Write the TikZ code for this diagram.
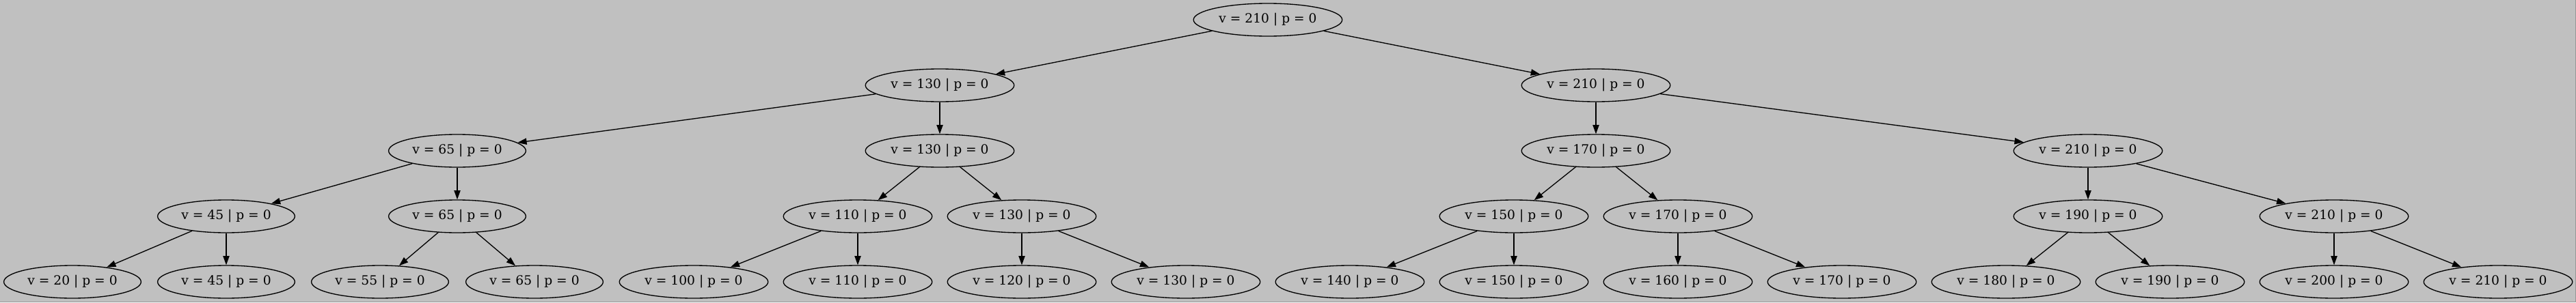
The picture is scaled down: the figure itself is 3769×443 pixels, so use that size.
\documentclass[tikz,border=0pt]{standalone}
\usepackage{fontspec}
\setmainfont{DejaVu Serif}
\usetikzlibrary{shapes.geometric,arrows.meta}

\definecolor{fondo}{RGB}{192,192,192}
\definecolor{borde}{RGB}{150,150,150}

\begin{document}
\begin{tikzpicture}[x=0.75pt,y=-0.75pt,
    nodo/.style={ellipse, draw=black, line width=1pt, inner xsep=4pt, inner ysep=0pt,
                 minimum height=36pt, font=\fontsize{14}{16}\selectfont},
    arista/.style={-{Triangle[length=10pt,width=7pt]}, line width=1pt, black}]

      % Fondo
      \useasboundingbox (0,0) rectangle (3769,443);
      \fill[fondo] (0,0) rectangle (3769,443);
      \draw[borde, line width=0.75pt] (0,442.5) -- (3768.5,442.5) -- (3768.5,0);

      % Nivel 0
      \node[nodo] (r) at (1855,29) {v = 210 | p = 0};

      % Nivel 1
      \node[nodo] (a) at (1375,125) {v = 130 | p = 0};
      \node[nodo] (b) at (2335,125) {v = 210 | p = 0};

      % Nivel 2
      \node[nodo] (aa) at (669,221) {v = 65 | p = 0};
      \node[nodo] (ab) at (1375,221) {v = 130 | p = 0};
      \node[nodo] (ba) at (2335,221) {v = 170 | p = 0};
      \node[nodo] (bb) at (3055,221) {v = 210 | p = 0};

      % Nivel 3
      \foreach \n/\x/\v in {aaa/331/45, aab/669/65, aba/1255/110, abb/1495/130,
                            baa/2215/150, bab/2455/170, bba/3055/190, bbb/3415/210} {
          \node[nodo] (\n) at (\x,317) {v = \v{} | p = 0};
      }

      % Nivel 4
      \foreach \n/\x/\v in {aaaa/106/20, aaab/331/45, aaba/556/55, aabb/782/65,
                            abaa/1015/100, abab/1255/110, abba/1495/120, abbb/1735/130,
                            baaa/1975/140, baab/2215/150, baba/2455/160, babb/2695/170,
                            bbaa/2935/180, bbab/3175/190, bbba/3415/200, bbbb/3655/210} {
          \node[nodo] (\n) at (\x,413) {v = \v{} | p = 0};
      }

      % Aristas
      \foreach \p/\h in {r/a, r/b, a/aa, a/ab, b/ba, b/bb,
                         aa/aaa, aa/aab, ab/aba, ab/abb, ba/baa, ba/bab, bb/bba, bb/bbb,
                         aaa/aaaa, aaa/aaab, aab/aaba, aab/aabb, aba/abaa, aba/abab,
                         abb/abba, abb/abbb, baa/baaa, baa/baab, bab/baba, bab/babb,
                         bba/bbaa, bba/bbab, bbb/bbba, bbb/bbbb} {
          \draw[arista] (\p) -- (\h);
      }
    \end{tikzpicture}
\end{document}
